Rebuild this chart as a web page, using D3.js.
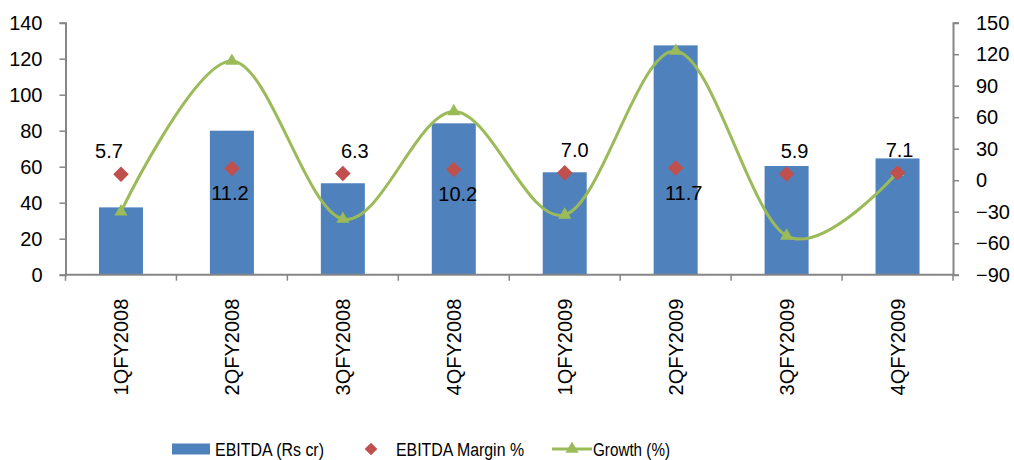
<!DOCTYPE html>
<html>
<head>
<meta charset="utf-8">
<script src="https://d3js.org/d3.v7.min.js"></script>
<style>
  body { margin: 0; background: #fff; }
  svg text { font-family: "Liberation Sans", Arial, sans-serif; fill: #000; }
</style>
</head>
<body>
<div id="chart"></div>
<script>
// data
var quarters = ["1QFY2008", "2QFY2008", "3QFY2008", "4QFY2008", "1QFY2009", "2QFY2009", "3QFY2009", "4QFY2009"];
var ebitda = [37.4, 80, 50.8, 84.1, 56.9, 127.4, 60.4, 64.6];
var margin = [5.7, 11.2, 6.3, 10.2, 7.0, 11.7, 5.9, 7.1];
var growth = [-30, 113.5, -37, 65.5, -33, 123, -53, 7.5];
var leftTicks = [0, 20, 40, 60, 80, 100, 120, 140];
var rightTicks = [-90, -60, -30, 0, 30, 60, 90, 120, 150];

// label placement for the margin values (above / below the diamond, nudge)
var labelBelow = [false, true, false, true, false, true, false, false];
var labelDx = [-12, -2, 12, 4, 10, 8, 8, 2];

var W = 1014, H = 460;
var box = {left: 65.5, right: 953, top: 22.7, bottom: 274.7};
var axisColor = "#868686";

var svg = d3.select("#chart").append("svg")
    .attr("width", W).attr("height", H);

var x = d3.scaleBand().domain(quarters)
    .range([box.left, box.right]).paddingInner(0.6).paddingOuter(0.3);
var step = (box.right - box.left) / quarters.length;
var cx = function(i) { return box.left + step * (i + 0.5); };

var yL = d3.scaleLinear().domain([0, 140]).range([box.bottom, box.top]);
var yR = d3.scaleLinear().domain([-90, 150]).range([box.bottom, box.top]);

// bars
svg.append("g").selectAll("rect")
    .data(ebitda).enter().append("rect")
    .attr("x", function(d, i) { return cx(i) - 22; })
    .attr("width", 44)
    .attr("y", function(d) { return yL(d); })
    .attr("height", function(d) { return yL(0) - yL(d); })
    .attr("fill", "#4F81BD");

// left axis
var gl = svg.append("g").attr("transform", "translate(" + box.left + ",0)")
    .call(d3.axisLeft(yL).tickValues(leftTicks).tickSize(6).tickPadding(17));
// right axis
var gr = svg.append("g").attr("transform", "translate(" + box.right + ",0)")
    .call(d3.axisRight(yR).tickValues(rightTicks).tickSize(6).tickPadding(17));
[gl, gr].forEach(function(g) {
  g.select(".domain").attr("stroke", axisColor).attr("stroke-width", 2);
  g.selectAll(".tick line").attr("stroke", axisColor).attr("stroke-width", 1.5);
  g.selectAll(".tick text").attr("font-size", 20).attr("font-family", "Liberation Sans, Arial, sans-serif").attr("fill", "#000");
});
gr.selectAll(".tick text").attr("text-anchor", "start");

// bottom axis
var gb = svg.append("g");
gb.append("line").attr("x1", box.left).attr("x2", box.right + 1)
    .attr("y1", box.bottom).attr("y2", box.bottom)
    .attr("stroke", axisColor).attr("stroke-width", 2);
gb.selectAll("line.tk").data(d3.range(quarters.length + 1)).enter().append("line")
    .attr("class", "tk")
    .attr("x1", function(d) { return box.left + step * d; })
    .attr("x2", function(d) { return box.left + step * d; })
    .attr("y1", box.bottom).attr("y2", box.bottom + 6)
    .attr("stroke", axisColor).attr("stroke-width", 1.5);
gb.selectAll("text").data(quarters).enter().append("text")
    .attr("transform", function(d, i) { return "translate(" + (cx(i) + 7.5) + "," + (box.bottom + 24) + ") rotate(-90)"; })
    .attr("text-anchor", "end")
    .attr("font-size", 20)
    .text(function(d) { return d; });

// growth line (smoothed)
var line = d3.line()
    .x(function(d, i) { return cx(i); })
    .y(function(d) { return yR(d); })
    .curve(d3.curveCardinal.tension(0));
svg.append("path").datum(growth)
    .attr("d", line)
    .attr("fill", "none")
    .attr("stroke", "#9BBB59")
    .attr("stroke-width", 3);

var tri = d3.symbol().type(d3.symbolTriangle).size(75);
svg.append("g").selectAll("path")
    .data(growth).enter().append("path")
    .attr("d", tri)
    .attr("transform", function(d, i) { return "translate(" + cx(i) + "," + yR(d) + ")"; })
    .attr("fill", "#9BBB59");

// margin diamonds
svg.append("g").selectAll("rect")
    .data(margin).enter().append("rect")
    .attr("x", -5.5).attr("y", -5.5).attr("width", 11).attr("height", 11)
    .attr("transform", function(d, i) { return "translate(" + cx(i) + "," + yR(d) + ") rotate(45)"; })
    .attr("fill", "#C0504D");

svg.append("g").selectAll("text")
    .data(margin).enter().append("text")
    .attr("x", function(d, i) { return cx(i) + labelDx[i]; })
    .attr("y", function(d, i) { return yR(d) + (labelBelow[i] ? 32 : -16); })
    .attr("text-anchor", "middle")
    .attr("font-size", 20)
    .text(function(d) { return d.toFixed(1); });

// legend
var lg = svg.append("g").attr("transform", "translate(0,449)");
lg.append("rect").attr("x", 172).attr("y", -5.5).attr("width", 38).attr("height", 11).attr("fill", "#4F81BD");
lg.append("text").attr("x", 215).attr("y", 7).attr("font-size", 18)
    .attr("textLength", 109).attr("lengthAdjust", "spacingAndGlyphs").text("EBITDA (Rs cr)");
lg.append("rect").attr("x", -4.5).attr("y", -4.5).attr("width", 9).attr("height", 9)
    .attr("transform", "translate(371,0) rotate(45)").attr("fill", "#C0504D");
lg.append("text").attr("x", 396).attr("y", 7).attr("font-size", 18)
    .attr("textLength", 128).attr("lengthAdjust", "spacingAndGlyphs").text("EBITDA Margin %");
lg.append("line").attr("x1", 552).attr("x2", 592).attr("y1", 0).attr("y2", 0)
    .attr("stroke", "#9BBB59").attr("stroke-width", 3);
lg.append("path").attr("d", tri).attr("transform", "translate(572,0)").attr("fill", "#9BBB59");
lg.append("text").attr("x", 593).attr("y", 7).attr("font-size", 18)
    .attr("textLength", 77).attr("lengthAdjust", "spacingAndGlyphs").text("Growth (%)");
</script>
</body>
</html>
